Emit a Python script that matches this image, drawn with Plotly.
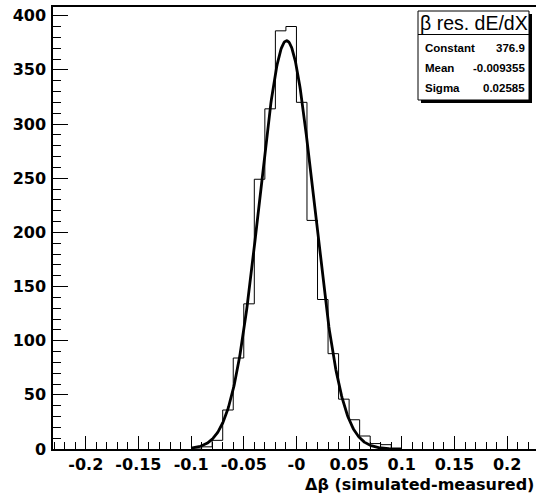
import numpy as np
import plotly.graph_objects as go

# ---- data ----
BIN_EDGES = [-0.10, -0.09, -0.08, -0.07, -0.06, -0.05, -0.04, -0.03, -0.02, -0.01, 0.00,
             0.01, 0.02, 0.03, 0.04, 0.05, 0.06, 0.07, 0.08, 0.09, 0.10]
COUNTS = [0, 2, 8, 36, 84, 134, 249, 314, 386, 390, 320,
          211, 138, 88, 46, 27, 12, 5, 4, 0]

FIT_CONSTANT = 376.9
FIT_MEAN = -0.009355
FIT_SIGMA = 0.02585
FIT_RANGE = [-0.10, 0.10]

X_TICKS = [-0.2, -0.15, -0.1, -0.05, 0.0, 0.05, 0.1, 0.15, 0.2]
X_TICK_TEXT = ["-0.2", "-0.15", "-0.1", "-0.05", "-0", "0.05", "0.1", "0.15", "0.2"]

STAT_LABELS = ["Constant", "Mean", "Sigma"]
STAT_VALUES = ["376.9", "-0.009355", "0.02585"]
BOX_TITLE = "β res. dE/dX"
X_TITLE = "Δβ (simulated-measured)"

# ---- figure geometry ----
W, H = 536, 496
ML, MR, MT, MB = 53, 0, 7, 47
PW, PH = W - ML - MR, H - MT - MB


def px(x):
    return (x - ML) / PW


def py(y):
    return (H - MB - y) / PH


fig = go.Figure()

# histogram outline (step)
xs = [BIN_EDGES[0]] + BIN_EDGES
ys = [0] + COUNTS + [0]
fig.add_trace(go.Scatter(x=xs, y=ys, mode="lines", line=dict(shape="hv", color="black", width=1),
                         hoverinfo="skip", showlegend=False))

# gaussian fit curve from the fitted parameters
xf = np.linspace(FIT_RANGE[0], FIT_RANGE[1], 400)
yf = FIT_CONSTANT * np.exp(-0.5 * ((xf - FIT_MEAN) / FIT_SIGMA) ** 2)
fig.add_trace(go.Scatter(x=xf, y=yf, mode="lines", line=dict(color="black", width=2.8),
                         hoverinfo="skip", showlegend=False))

tickfont = dict(family="DejaVu Sans", size=16, color="black", weight="bold")

fig.update_xaxes(range=[-0.2311, 0.2274], tickmode="array", tickvals=X_TICKS, ticktext=X_TICK_TEXT,
                 ticks="inside", ticklen=13, tickwidth=1, tickcolor="black",
                 minor=dict(ticks="inside", ticklen=7, tickwidth=1, tickcolor="black",
                            tickmode="linear", tick0=0, dtick=0.01),
                 showline=True, linecolor="black", linewidth=1.5, mirror=True,
                 showgrid=False, zeroline=False, tickfont=tickfont, ticklabelstandoff=0)
fig.update_yaxes(range=[0, 408], tickmode="linear", tick0=0, dtick=50,
                 ticks="inside", ticklen=15, tickwidth=1, tickcolor="black",
                 minor=dict(ticks="inside", ticklen=8, tickwidth=1, tickcolor="black",
                            tickmode="linear", tick0=0, dtick=10),
                 showline=True, linecolor="black", linewidth=1.5,
                 showgrid=False, zeroline=False, tickfont=tickfont, ticklabelstandoff=2)

# stats box
bx0, bx1, by0, by1 = 418, 529, 11, 100
shapes = [
    dict(type="rect", xref="paper", yref="paper", x0=px(bx0 + 3), x1=px(bx1 + 3),
         y0=py(by1 + 3), y1=py(by0 + 3), fillcolor="black", line=dict(width=0), layer="above"),
    dict(type="rect", xref="paper", yref="paper", x0=px(bx0), x1=px(bx1),
         y0=py(by1), y1=py(by0), fillcolor="white", line=dict(color="black", width=1), layer="above"),
    dict(type="line", xref="paper", yref="paper", x0=px(bx0), x1=px(bx1),
         y0=py(34.5), y1=py(34.5), line=dict(color="black", width=1), layer="above"),
]
fig.update_layout(shapes=shapes)

annotations = [
    dict(text=BOX_TITLE, xref="paper", yref="paper", x=px((bx0 + bx1) / 2), y=py(23),
         xanchor="center", yanchor="middle", showarrow=False,
         font=dict(family="Liberation Sans", size=19.5, color="black")),
]
row_y = [48, 68, 88]
for lab, val, yy in zip(STAT_LABELS, STAT_VALUES, row_y):
    annotations.append(dict(text=lab, xref="paper", yref="paper", x=px(bx0 + 5), y=py(yy),
                            xanchor="left", yanchor="middle", showarrow=False,
                            font=dict(family="Liberation Sans", size=11.5, color="black", weight="bold")))
    annotations.append(dict(text=val, xref="paper", yref="paper", x=px(bx1 - 2), y=py(yy),
                            xanchor="right", yanchor="middle", showarrow=False,
                            font=dict(family="Liberation Sans", size=11.5, color="black", weight="bold")))
annotations.append(dict(text=X_TITLE, xref="paper", yref="paper", x=1.0, y=py(485),
                        xanchor="right", yanchor="middle", showarrow=False,
                        font=dict(family="DejaVu Sans", size=16, color="black", weight="bold")))
fig.update_layout(annotations=annotations)

fig.update_layout(width=W, height=H, margin=dict(l=ML, r=MR, t=MT, b=MB, pad=0),
                  paper_bgcolor="white", plot_bgcolor="white")

fig.write_html("out.html", config={"displayModeBar": False},
               post_script="document.body.style.margin='0';document.body.style.padding='0';"
                           "document.documentElement.style.overflow='hidden';")
